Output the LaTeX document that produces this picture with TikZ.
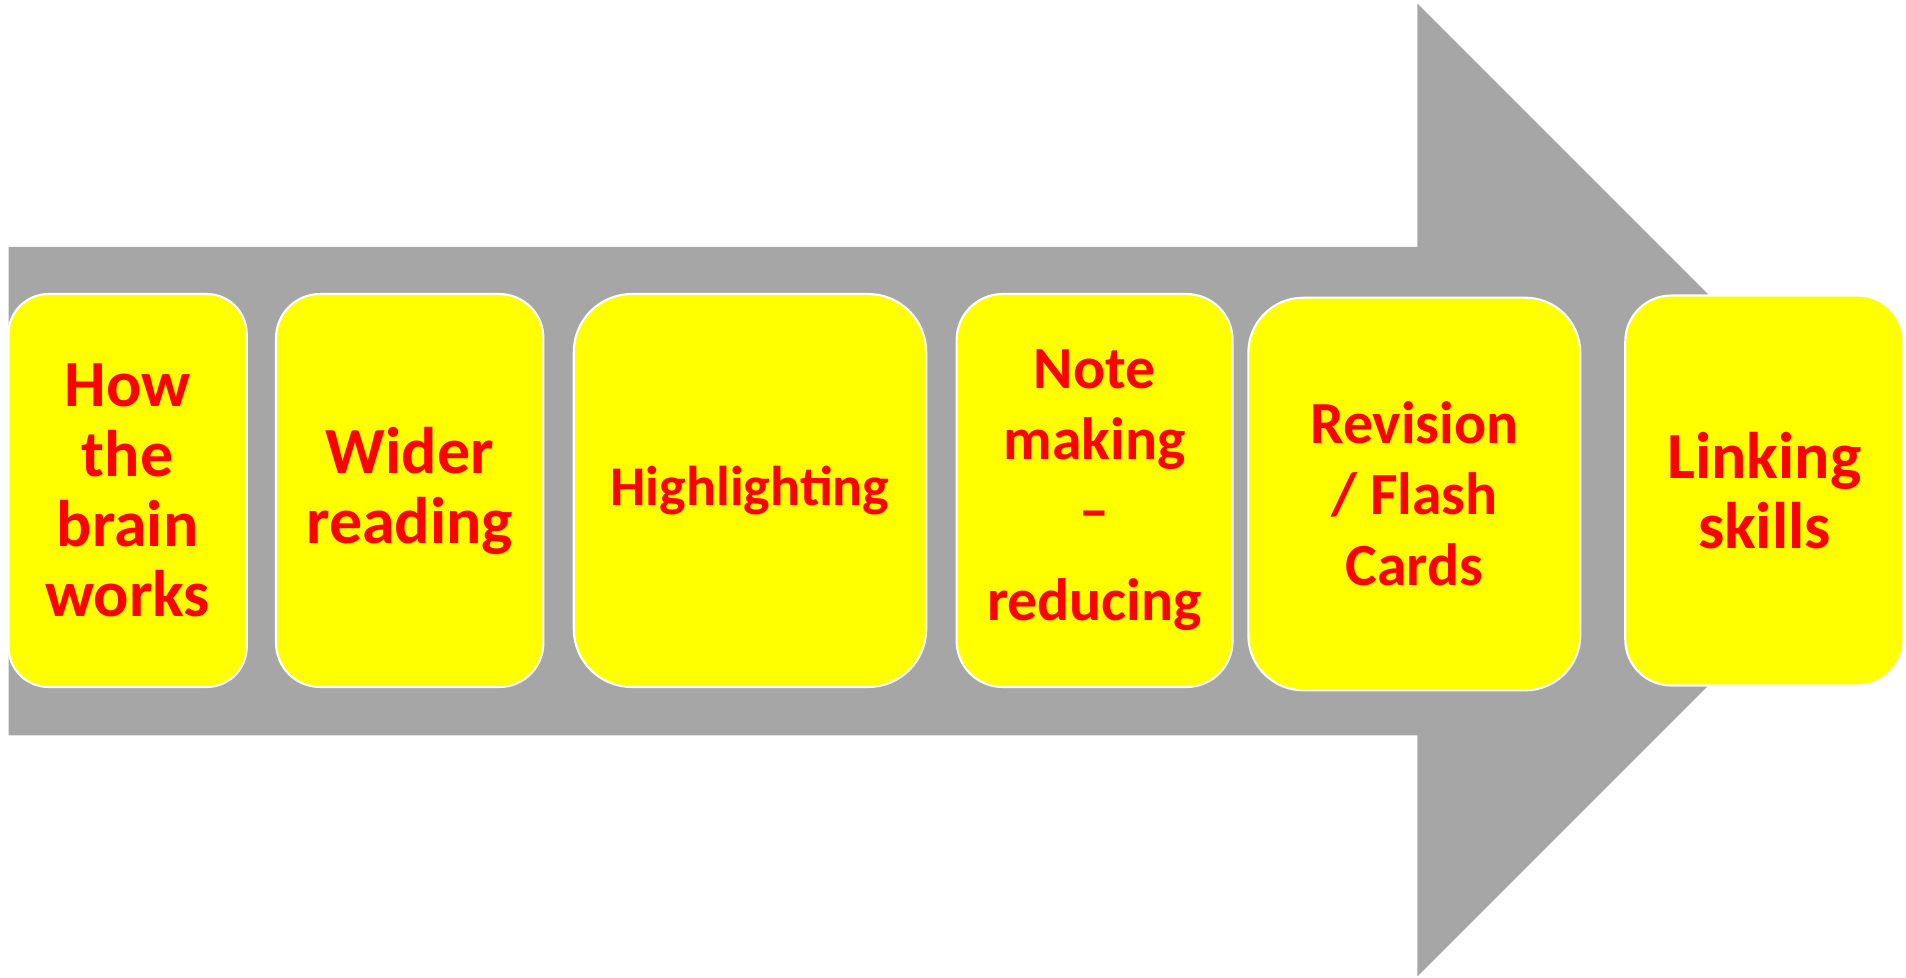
\documentclass[tikz,border=0pt]{standalone}
\usepackage{fontspec}
\setmainfont{Carlito}
\usepackage{xcolor}
\usetikzlibrary{positioning}

\definecolor{arrowgrey}{HTML}{A6A6A6}
\definecolor{stagefill}{HTML}{FFFF00}
\definecolor{stagetext}{HTML}{FF0000}

\begin{document}
\begin{tikzpicture}[x=0.02cm,y=-0.02cm,
  stage/.style={draw=white,line width=1.2pt,fill=stagefill,text=stagetext,
    align=center,inner sep=0pt,minimum height=7.86cm,
    font=\bfseries\fontsize{37.5pt}{39.8pt}\selectfont},
  smaller/.style={font=\bfseries\fontsize{34pt}{40.4pt}\selectfont}]
  \useasboundingbox (0,0) rectangle (1906,977);
  % big grey arrow behind the stages
  \fill[arrowgrey] (8.5,246.8) -- (1417.4,246.8) -- (1417.4,3.6) -- (1903.8,490)
    -- (1417.4,976.4) -- (1417.4,735.4) -- (8.5,735.4) -- cycle;
  % stages
  \node[stage,rounded corners=0.8cm,minimum width=4.766cm] (brain) at (127.6,490.5)
    {How\\the\\brain\\works};
  \node[stage,rounded corners=0.88cm,minimum width=5.348cm] (wider) at (409.7,490.5)
    {Wider\\reading};
  \node[stage,rounded corners=1.16cm,minimum width=7.05cm,
    font=\bfseries\fontsize{31.9pt}{38pt}\selectfont] (highlight) at (750,490.5)
    {Highlighting};
  \node[stage,smaller,rounded corners=0.92cm,minimum width=5.52cm] (notes) at (1094.6,490.5)
    {Note\\making\\–\\[0.38cm]reducing};
  \node[stage,smaller,rounded corners=1.1cm,minimum width=6.64cm,minimum height=7.854cm]
    (revision) at (1414.3,494) {Revision\\/ Flash\\Cards};
  \node[stage,rounded corners=0.92cm,minimum width=5.566cm,minimum height=7.8cm]
    (linking) at (1764.4,490.5) {Linking\\skills};
\end{tikzpicture}
\end{document}
